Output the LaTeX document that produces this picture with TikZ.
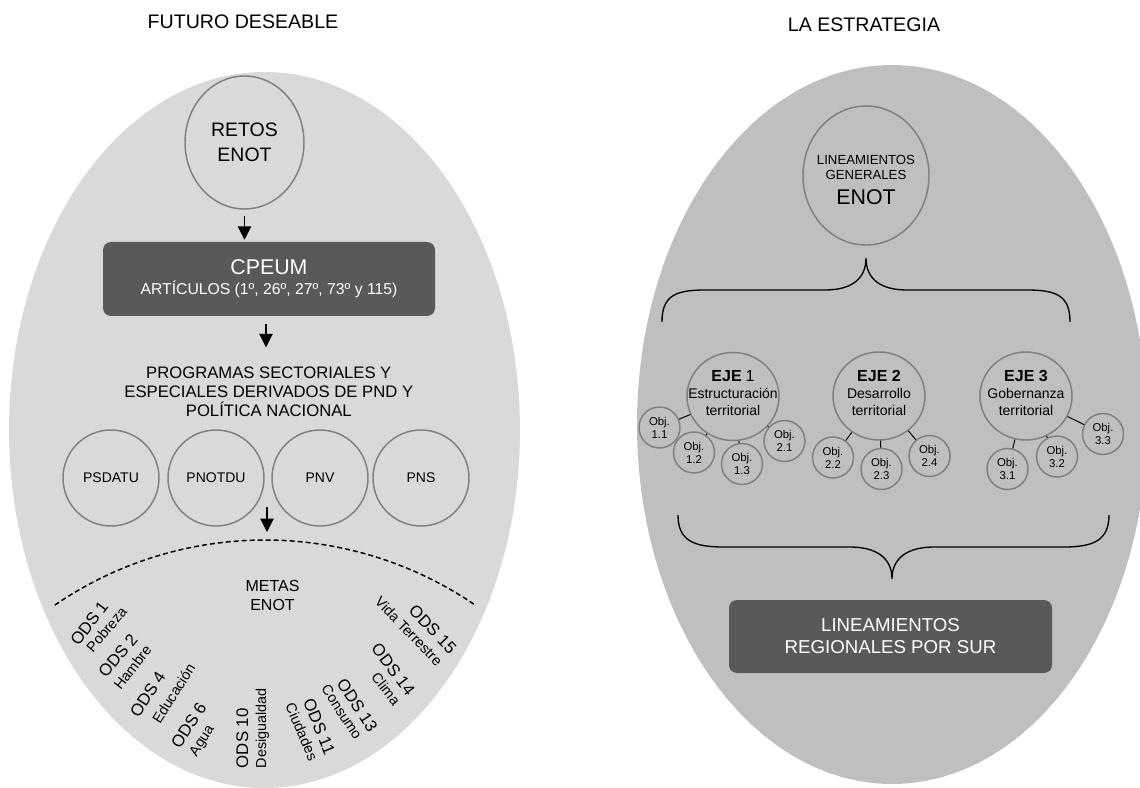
\documentclass[tikz,border=0pt]{standalone}
\usepackage{fontspec}
\setmainfont{Liberation Sans}
\usetikzlibrary{arrows.meta,shapes.geometric,calc}
\definecolor{lgray}{HTML}{D9D9D9}
\definecolor{mgray}{HTML}{BFBFBF}
\definecolor{dgray}{HTML}{595959}
\definecolor{cgray}{HTML}{808080}
\begin{document}
\begin{tikzpicture}[x=0.75pt,y=-0.75pt,
  ring/.style={ellipse,draw=cgray,line width=1.1pt,inner sep=0pt,align=center},
  darkbox/.style={fill=dgray,rounded corners=6pt,text=white,align=center,inner sep=0pt},
  arr/.style={-{Triangle[width=10pt,length=10pt]},line width=0.8pt},
  link/.style={line width=0.75pt},
  brace/.style={line width=1pt},
  lbl/.style={inner sep=0pt,align=center},
  ods/.style={inner sep=0pt,font=\fontsize{12.6}{14}\selectfont},
  odsd/.style={inner sep=0pt,font=\fontsize{10.8}{12}\selectfont},
  objc/.style={ring,minimum size=30.75pt,font=\fontsize{8.5}{9.75}\selectfont},
  ejec/.style={ring,minimum width=69pt,minimum height=66pt},
  ejet/.style={lbl,font=\fontsize{10.5}{12.75}\selectfont},
]
\useasboundingbox (0,0) rectangle (1140,788);
\clip (0,0) rectangle (1140,788);
\fill[lgray] (264.5,430) ellipse [x radius=191.6pt, y radius=268.5pt];
\fill[mgray] (892,424.5) ellipse [x radius=191.25pt, y radius=269.6pt];

% titles
\node[lbl,font=\fontsize{14.7}{17}\selectfont] (t1) at (243,22) {FUTURO DESEABLE};
\node[lbl,font=\fontsize{14.7}{17}\selectfont] (t2) at (864,25) {LA ESTRATEGIA};

% left side
\node[ring,minimum width=89.25pt,minimum height=99.75pt,font=\fontsize{14.6}{18.75}\selectfont] (retos) at (244.5,142.5) {RETOS\\ENOT};
\node[darkbox,minimum width=249pt,minimum height=55.5pt,font=\fontsize{11.8}{15}\selectfont] (cpeum) at (269,279) {{\fontsize{16}{15}\selectfont CPEUM}\\ARTÍCULOS (1º, 26º, 27º, 73º y 115)};
\node[lbl,font=\fontsize{12.5}{14.25}\selectfont] (prog) at (268.8,392) {PROGRAMAS SECTORIALES Y\\ESPECIALES DERIVADOS DE PND Y\\POLÍTICA NACIONAL};
\node[ring,minimum size=72pt,font=\fontsize{10.5}{12}\selectfont] (psdatu) at (111,478) {PSDATU};
\node[ring,minimum size=72pt,font=\fontsize{10.5}{12}\selectfont] (pnotdu) at (216,478) {PNOTDU};
\node[ring,minimum size=72pt,font=\fontsize{10.5}{12}\selectfont] (pnv) at (320,478) {PNV};
\node[ring,minimum size=72pt,font=\fontsize{10.5}{12}\selectfont] (pns) at (421,478) {PNS};

\draw[arr] ($(retos.south)+(0,6)$) -- ($(retos.south |- cpeum.north)+(0,-2)$);
\draw[arr] ($(cpeum.south)+(-3,8)$) -- ($(cpeum.south)+(-3,31)$);
\coordinate (peak) at (267,540);
\draw[arr] ($(peak)+(0,-33)$) -- ($(peak)+(0,-8)$);

\draw[line width=1.1pt,dash pattern=on 3.75pt off 2.25pt] plot[domain=-34.4:34.4,samples=60] ({265+372*sin(\x)},{912-372*cos(\x)});

\node[lbl,font=\fontsize{12}{14.25}\selectfont] (metas) at (272.5,595.5) {METAS\\ENOT};

\node[ods,rotate=53] (o1) at (89.3,623.3) {ODS 1};
\node[odsd,rotate=50] (o1d) at (106.5,629.5) {Pobreza};
\node[ods,rotate=50] (o2) at (118,655.7) {ODS 2};
\node[odsd,rotate=52] (o2d) at (132.5,667.5) {Hambre};
\node[ods,rotate=57] (o4) at (147.7,694.3) {ODS 4};
\node[odsd,rotate=58] (o4d) at (173.5,693.5) {Educación};
\node[ods,rotate=57] (o6) at (188.7,725.3) {ODS 6};
\node[odsd,rotate=58] (o6d) at (202.5,741) {Agua};
\node[ods,rotate=90] (o10) at (242.3,738.3) {ODS 10};
\node[odsd,rotate=90] (o10d) at (262.5,728.3) {Desigualdad};
\node[ods,rotate=-68] (o11) at (319.3,726.7) {ODS 11};
\node[odsd,rotate=-67] (o11d) at (301.8,731.7) {Ciudades};
\node[ods,rotate=-57] (o13) at (357.3,705) {ODS 13};
\node[odsd,rotate=-57] (o13d) at (341.8,712) {Consumo};
\node[ods,rotate=-53] (o14) at (393.3,669.3) {ODS 14};
\node[odsd,rotate=-52] (o14d) at (386,689) {Clima};
\node[ods,rotate=-46] (o15) at (432.7,629.3) {ODS 15};
\node[odsd,rotate=-46] (o15d) at (408.8,631.2) {Vida Terrestre};

% right side
\node[ring,minimum width=94.5pt,minimum height=104.25pt] (lg) at (866,175.5) {};
\node[lbl,font=\fontsize{9.9}{11.25}\selectfont] (lgt) at (866,167) {LINEAMIENTOS\\GENERALES};
\node[lbl,font=\fontsize{16}{18}\selectfont] (lge) at (866,197) {ENOT};

\draw[brace] (662,322) .. controls (662,296) and (675,290) .. (705,290) -- (825,290)
  .. controls (850,290) and (866,280) .. (866,258)
  .. controls (866,280) and (882,290) .. (907,290) -- (1027,290)
  .. controls (1057,290) and (1070,296) .. (1070,322);

\node[ejec] (e1) at (733,396.5) {};
\node[ejec] (e2) at (879,396) {};
\node[ejec] (e3) at (1026,396) {};
\node[ejet] (e1t) at (733,393) {{\fontsize{12}{12.75}\selectfont\bfseries EJE} {\fontsize{12}{12.75}\selectfont 1}\\Estructuración\\territorial};
\node[ejet] (e2t) at (879,393) {{\fontsize{12}{12.75}\selectfont\bfseries EJE 2}\\Desarrollo\\territorial};
\node[ejet] (e3t) at (1026,393) {{\fontsize{12}{12.75}\selectfont\bfseries EJE 3}\\Gobernanza\\territorial};

\node[objc] (o11c) at (659.5,427.5) {Obj.\\1.1};
\node[objc] (o12c) at (694,452.5) {Obj.\\1.2};
\node[objc] (o13c) at (742,464) {Obj.\\1.3};
\node[objc] (o21c) at (784.5,441) {Obj.\\2.1};
\node[objc] (o22c) at (833,457.5) {Obj.\\2.2};
\node[objc] (o23c) at (881.5,469) {Obj.\\2.3};
\node[objc] (o24c) at (929.5,456) {Obj.\\2.4};
\node[objc] (o31c) at (1007.5,469) {Obj.\\3.1};
\node[objc] (o32c) at (1057,456.5) {Obj.\\3.2};
\node[objc] (o33c) at (1103,434) {Obj.\\3.3};

\draw[link] (e1) -- (o11c);
\draw[link] (e1) -- (o12c);
\draw[link] (e1) -- (o13c);
\draw[link] (e1) -- (o21c);
\draw[link] (e2) -- (o22c);
\draw[link] (e2) -- (o23c);
\draw[link] (e2) -- (o24c);
\draw[link] (e3) -- (o31c);
\draw[link] (e3) -- (o32c);
\draw[link] (e3) -- (o33c);

\draw[brace] (678,515) .. controls (678,540) and (693,547) .. (723,547) -- (850,547)
  .. controls (875,547) and (892,557) .. (892,579)
  .. controls (892,557) and (909,547) .. (934,547) -- (1064,547)
  .. controls (1094,547) and (1109,540) .. (1109,515);

\node[darkbox,minimum width=242.25pt,minimum height=54.75pt,font=\fontsize{14}{16.5}\selectfont] (reg) at (890.5,636.5) {LINEAMIENTOS\\REGIONALES POR SUR};
\end{tikzpicture}
\end{document}
